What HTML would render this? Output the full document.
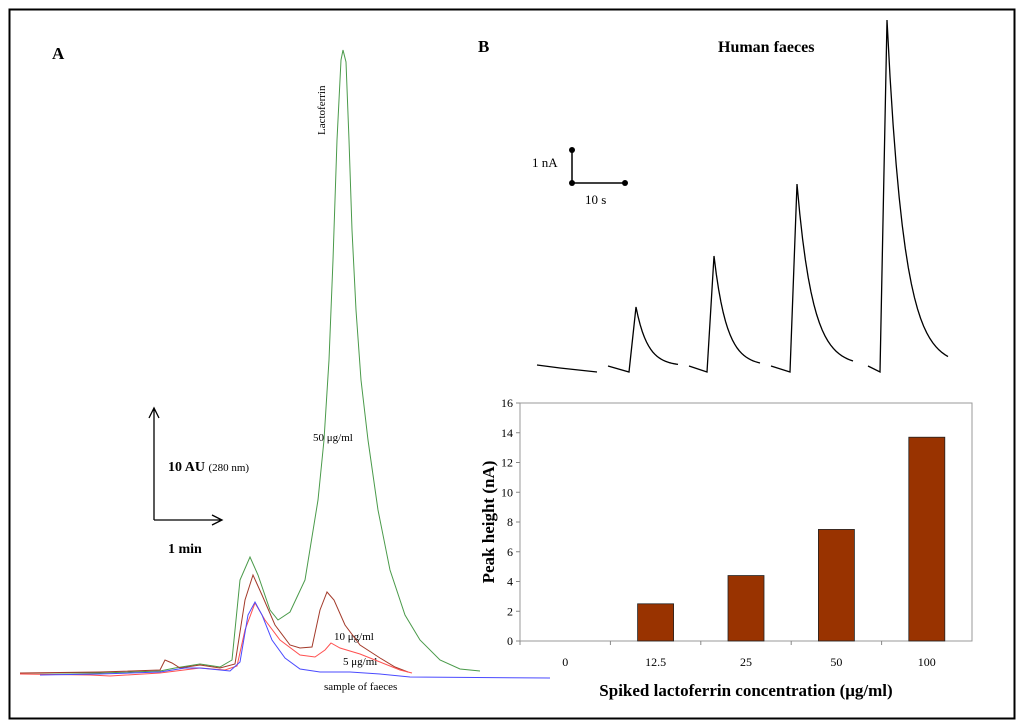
<!DOCTYPE html>
<html><head><meta charset="utf-8"><style>
body{margin:0;background:#fff;}
svg{display:block;font-family:"Liberation Serif",serif;}
</style></head><body>
<svg id="s" width="1024" height="728" viewBox="0 0 1024 728">
<rect x="9.5" y="9.5" width="1005" height="709" fill="#fff" stroke="#000" stroke-width="2"/>
<text x="52" y="59" font-size="17" font-weight="bold">A</text>
<text x="478" y="52" font-size="17" font-weight="bold">B</text>
<text x="718" y="52" font-size="16" font-weight="bold">Human faeces</text>
<g stroke="#000" stroke-width="1.3" fill="none">
<path d="M154,520 V408 M149,418 L154,408 L159,418 M154,520 H222 M212,515 L222,520 L212,525"/>
</g>
<text x="168" y="471" font-size="14" font-weight="bold">10 AU <tspan font-weight="normal" font-size="11">(280 nm)</tspan></text>
<text x="168" y="553" font-size="14" font-weight="bold">1 min</text>
<text transform="translate(325,135) rotate(-90)" font-size="11">Lactoferrin</text>
<text x="313" y="441" font-size="11">50 μg/ml</text>
<text x="334" y="640" font-size="11">10 μg/ml</text>
<text x="343" y="665" font-size="11">5 μg/ml</text>
<text x="324" y="690" font-size="11">sample of faeces</text>
<g id="chrom"></g>
<g>
<path d="M572,150 V183 H625" stroke="#000" stroke-width="1.5" fill="none"/>
<circle cx="572" cy="150" r="3"/><circle cx="572" cy="183" r="3"/><circle cx="625" cy="183" r="3"/>
</g>
<text x="532" y="167" font-size="13">1 nA</text>
<text x="585" y="204" font-size="13">10 s</text>
<g id="trans"></g>
<g id="bar"></g>
</svg>
<script>
const NS="http://www.w3.org/2000/svg";
function mk(t,a,p){const e=document.createElementNS(NS,t);for(const k in a)e.setAttribute(k,a[k]);p.appendChild(e);return e;}
const greenTrace=[[20,673],[100,673],[160,671],[175,668],[200,664],[220,667],[232,660],[240,580],[250,557],[258,575],[270,610],[278,620],[290,612],[305,580],[318,500],[324,440],[329,360],[333,260],[337,140],[341,60],[343,50],[346,62],[349,140],[352,230],[356,310],[361,380],[368,440],[378,510],[390,570],[405,615],[420,640],[440,660],[460,669],[480,671]];
const brownTrace=[[20,673],[100,672],[160,670],[165,660],[172,663],[180,668],[200,665],[220,668],[235,664],[245,600],[253,575],[262,595],[275,625],[290,645],[300,648],[312,647],[320,610],[327,592],[334,600],[345,625],[360,645],[380,658],[395,667],[408,672]];
const redTrace=[[20,674],[90,675],[110,676],[160,673],[200,668],[225,670],[237,666],[245,630],[255,603],[265,620],[280,640],[300,655],[315,657],[325,650],[331,643],[340,648],[360,654],[380,662],[400,670],[412,673]];
const blueTrace=[[40,675],[100,674],[160,672],[185,668],[200,668],[230,671],[240,662],[248,615],[255,602],[262,615],[272,640],[285,658],[300,669],[320,672],[350,672],[380,674],[410,677],[550,678]];
const tr=[["green-trace-50",greenTrace,"#4a9a4a"],["brown-trace-10",brownTrace,"#a33a2a"],["red-trace-5",redTrace,"#ff5050"],["blue-trace-sample",blueTrace,"#4a4aff"]];
const cg=document.getElementById('chrom');
tr.forEach(t=>{const p=mk('polyline',{points:t[1].map(q=>q.join(',')).join(' '),fill:'none',stroke:t[2],'stroke-width':1},cg);

});
const transStart=[608,689,771,868];
const transPeakY=[307,256,184,20];
const transRise=[629,707,790,880];
const transEnd=[678,760,853,948];
const tg=document.getElementById('trans');
const s0=mk('polyline',{points:'537,365 560,368 597,372',fill:'none',stroke:'#000','stroke-width':1.3},tg);


transStart.forEach((x0,i)=>{const pts=[[x0,366],[transRise[i],372],[transRise[i]+7,transPeakY[i]]];
const px=transRise[i]+7,len=transEnd[i]-px;
for(let k=1;k<=20;k++){const x=px+len*k/20;const y=366-(366-transPeakY[i])*Math.exp(-3.6*k/20);pts.push([x,y]);}
const p=mk('polyline',{points:pts.map(q=>q.join(',')).join(' '),fill:'none',stroke:'#000','stroke-width':1.3},tg);

});
const cats=["0","12.5","25","50","100"];
const vals=[0,2.5,4.4,7.5,13.7];
const yTicks=[0,2,4,6,8,10,12,14,16];
const X0=520,X1=972,Y0=641,Y1=403;
const ys=v=>Y0-(Y0-Y1)*v/16;
const bw=(X1-X0)/cats.length;
const bg=document.getElementById('bar');
const fr=mk('rect',{x:X0,y:Y1,width:X1-X0,height:Y0-Y1,fill:'none',stroke:'#999'},bg);


yTicks.forEach(v=>{const t=mk('text',{x:X0-7,y:ys(v)+4,'font-size':12,'text-anchor':'end'},bg);t.textContent=v;


mk('line',{x1:X0-4,x2:X0,y1:ys(v),y2:ys(v),stroke:'#888'},bg);});
cats.forEach((c,i)=>{const cx=X0+bw*(i+0.5);
mk('line',{x1:X0+bw*i,x2:X0+bw*i,y1:Y0,y2:Y0+4,stroke:'#888'},bg);
const t=mk('text',{x:cx,y:666,'font-size':12,'text-anchor':'middle'},bg);t.textContent=c;


if(vals[i]>0){const r=mk('rect',{x:cx-18,y:ys(vals[i]),width:36,height:Y0-ys(vals[i]),fill:'#993300',stroke:'#222','stroke-width':0.8},bg);

}});
const xt=mk('text',{x:746,y:696,'font-size':17,'font-weight':'bold','text-anchor':'middle'},bg);xt.textContent='Spiked lactoferrin concentration (μg/ml)';


const yt=mk('text',{transform:'translate(494,522) rotate(-90)','font-size':17,'font-weight':'bold','text-anchor':'middle'},bg);yt.textContent='Peak height (nA)';


</script>
</body></html>
